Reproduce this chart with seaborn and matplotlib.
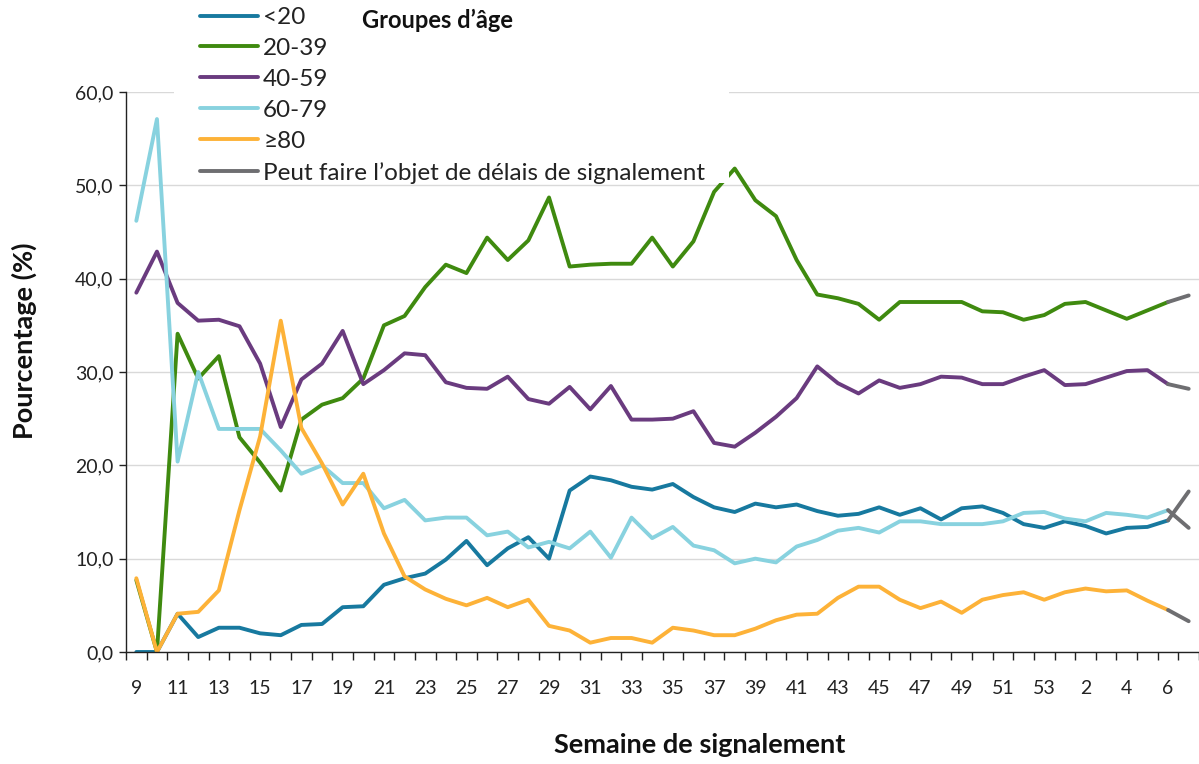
import pandas as pd
import seaborn as sns
import matplotlib.pyplot as plt
from matplotlib.lines import Line2D
from matplotlib.patches import Rectangle
from matplotlib.ticker import FixedLocator, FuncFormatter

# === Data ===
weeks = list(range(9, 54)) + list(range(1, 8))
groups = ["<20", "20-39", "40-59", "60-79", "≥80"]

lt20 = [0, 0, 4.1, 1.6, 2.6, 2.6, 2.0, 1.8, 2.9, 3.0, 4.8, 4.9, 7.2, 7.9, 8.4, 9.9,
        11.9, 9.3, 11.1, 12.3, 10.0, 17.3, 18.8, 18.4, 17.7, 17.4, 18.0, 16.6, 15.5,
        15.0, 15.9, 15.5, 15.8, 15.1,
        14.6, 14.8, 15.5, 14.7, 15.4, 14.2, 15.4, 15.6, 14.9, 13.7, 13.3, 14.0, 13.5,
        12.7, 13.3, 13.4, 14.1, 17.2]
a20_39 = [7.7, 0, 34.1, 29.3, 31.7, 23.0, 20.3, 17.3, 24.9, 26.5, 27.2, 29.3, 35.0,
          36.0, 39.1, 41.5,
          40.6, 44.4, 42.0, 44.1, 48.7, 41.3, 41.5, 41.6, 41.6, 44.4, 41.3, 44.0, 49.3,
          51.8, 48.4, 46.7, 42.0, 38.3,
          37.9, 37.3, 35.6, 37.5, 37.5, 37.5, 37.5, 36.5, 36.4, 35.6, 36.1, 37.3, 37.5,
          36.6, 35.7, 36.6, 37.5, 38.2]
a40_59 = [38.5, 42.9, 37.4, 35.5, 35.6, 34.9, 30.9, 24.1, 29.2, 30.9, 34.4, 28.7, 30.2,
          32.0, 31.8, 28.9,
          28.3, 28.2, 29.5, 27.1, 26.6, 28.4, 26.0, 28.5, 24.9, 24.9, 25.0, 25.8, 22.4,
          22.0, 23.5, 25.2, 27.2, 30.6,
          28.8, 27.7, 29.1, 28.3, 28.7, 29.5, 29.4, 28.7, 28.7, 29.5, 30.2, 28.6, 28.7,
          29.4, 30.1, 30.2, 28.7, 28.2]
a60_79 = [46.2, 57.1, 20.4, 30.0, 23.9, 23.9, 23.9, 21.6, 19.1, 20.0, 18.1, 18.1, 15.4,
          16.3, 14.1, 14.4,
          14.4, 12.5, 12.9, 11.2, 11.8, 11.1, 12.9, 10.1, 14.4, 12.2, 13.4, 11.4, 10.9,
          9.5, 10.0, 9.6, 11.3, 12.0,
          13.0, 13.3, 12.8, 14.0, 14.0, 13.7, 13.7, 13.7, 14.0, 14.9, 15.0, 14.3, 14.0,
          14.9, 14.7, 14.4, 15.2, 13.3]
a80 = [7.9, 0, 4.1, 4.3, 6.6, 15.2, 23.1, 35.5, 24.0, 20.2, 15.8, 19.1, 12.7, 8.1, 6.7, 5.7,
       5.0, 5.8, 4.8, 5.6, 2.8, 2.3, 1.0, 1.5, 1.5, 1.0, 2.6, 2.3, 1.8, 1.8, 2.5, 3.4,
       4.0, 4.1,
       5.8, 7.0, 7.0, 5.6, 4.7, 5.4, 4.2, 5.6, 6.1, 6.4, 5.6, 6.4, 6.8, 6.5, 6.6, 5.5,
       4.5, 3.3]

colors = {"<20": "#17799f", "20-39": "#3f8a0f", "40-59": "#6a3b7f",
          "60-79": "#88d2df", "≥80": "#fdb238"}
grey = "#6e6e71"
delay_label = "Peut faire l’objet de délais de signalement"

# long-form table
rows = []
for g, vals in zip(groups, [lt20, a20_39, a40_59, a60_79, a80]):
    for i, v in enumerate(vals):
        rows.append({"pos": i, "semaine": weeks[i], "groupe": g, "pct": v})
df = pd.DataFrame(rows)
last = df["pos"].max()
main = df[df["pos"] < last]
tail = df[df["pos"] >= last - 1]

# === Plot ===
sns.set_theme(style="white")
plt.rcParams["font.family"] = ["Lato", "DejaVu Sans"]

W, H = 1199, 764
fig = plt.figure(figsize=(W / 100, H / 100), dpi=100)
ax = fig.add_axes([126 / W, 1 - 652 / H, 1 - 126 / W, 560 / H])

lw = 2.8
sns.lineplot(data=main, x="pos", y="pct", hue="groupe", hue_order=groups,
             palette=colors, linewidth=lw, estimator=None, legend=False, ax=ax)
sns.lineplot(data=tail, x="pos", y="pct", units="groupe", estimator=None,
             color=grey, linewidth=lw, legend=False, ax=ax)

ax.set_xlim(-0.5, len(weeks) - 0.5)
ax.set_ylim(0, 60)

# x axis: labels every other week, tick marks between categories
ax.xaxis.set_major_locator(FixedLocator(list(range(0, len(weeks), 2))))
ax.set_xticklabels([str(weeks[i]) for i in range(0, len(weeks), 2)])
ax.xaxis.set_minor_locator(FixedLocator([i - 0.5 for i in range(len(weeks) + 1)]))
ax.tick_params(axis="x", which="major", length=0, pad=20, labelsize=14, colors="#222222")
ax.tick_params(axis="x", which="minor", bottom=True, length=6, width=1, color="#222222")

ax.set_yticks(range(0, 61, 10))
ax.yaxis.set_major_formatter(FuncFormatter(lambda v, p: f"{v:.1f}".replace(".", ",")))
ax.tick_params(axis="y", left=True, length=5, width=1, pad=4, labelsize=14,
               color="#222222", labelcolor="#222222")

ax.grid(axis="y", color="#d9d9d9", linewidth=1)
ax.grid(axis="x", visible=False)
for s in ["top", "right"]:
    ax.spines[s].set_visible(False)
for s in ["left", "bottom"]:
    ax.spines[s].set_color("#222222")
    ax.spines[s].set_linewidth(1)

ax.set_xlabel("Semaine de signalement", fontsize=19.5, fontweight="bold", color="#111111")
ax.set_ylabel("Pourcentage (%)", fontsize=19.5, fontweight="bold", color="#111111")
ax.xaxis.set_label_coords((700 - 126) / 1073, (652 - 733) / 560)
ax.yaxis.set_label_coords((37 - 126) / 1073, (652 - 341) / 560)

# white box behind the legend, hiding the top of the plot
ax.add_patch(Rectangle((174 / W, 1 - 183 / H), (729 - 174) / W, 183 / H,
                       transform=fig.transFigure, facecolor="white", edgecolor="none",
                       clip_on=False, zorder=4))

handles = [Line2D([], [], color=colors[g], linewidth=lw) for g in groups]
handles.append(Line2D([], [], color=grey, linewidth=lw))
leg = ax.legend(handles, groups + [delay_label], loc="upper left",
                bbox_to_anchor=(200 / W, 1 - 7 / H), bbox_transform=fig.transFigure,
                frameon=False, fontsize=17.5, handlelength=2.4, handletextpad=0.2,
                labelspacing=0.41, borderpad=0, borderaxespad=0)
leg.set_zorder(10)
for t in leg.get_texts():
    t.set_color("#222222")

fig.text(362 / W, 1 - 20 / H, "Groupes d’âge", fontsize=17, fontweight="bold",
         va="center", ha="left", color="#111111")

fig.savefig("out.png", dpi=100)
